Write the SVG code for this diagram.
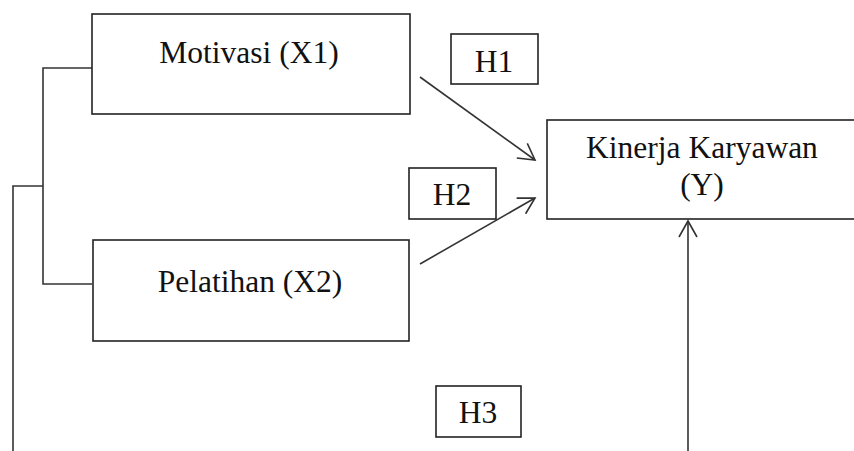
<svg xmlns="http://www.w3.org/2000/svg" width="854" height="451" viewBox="0 0 854 451">
<style>
.box{fill:#fff;stroke:#222;stroke-width:1.6}
.t{font-family:"Liberation Serif","Times New Roman",serif;font-size:31.5px;fill:#111;text-anchor:middle}
.c{fill:none;stroke:#333;stroke-width:1.6}
</style>
<defs>
<marker id="ah" viewBox="0 0 20 20" refX="18" refY="10" markerWidth="20" markerHeight="20" markerUnits="userSpaceOnUse" orient="auto">
<polyline points="2,1 18,10 2,19" fill="none" stroke="#333" stroke-width="1.6"/>
</marker>
</defs>
<rect width="854" height="451" fill="#fff"/>
<g id="connectors">
<polyline class="c" points="13,451 13,186 43,186"/>
<polyline class="c" points="92,68 43,68 43,284 92,284"/>
<line class="c" x1="420" y1="77" x2="535" y2="160" marker-end="url(#ah)"/>
<line class="c" x1="420" y1="264" x2="535" y2="198" marker-end="url(#ah)"/>
<line class="c" x1="688" y1="451" x2="688" y2="221" marker-end="url(#ah)"/>
</g>
<g id="motivasi">
<rect class="box" x="92" y="14" width="318" height="100"/>
<text class="t" x="249" y="63">Motivasi (X1)</text>
</g>
<g id="pelatihan">
<rect class="box" x="93" y="240" width="316" height="101"/>
<text class="t" x="250" y="292">Pelatihan (X2)</text>
</g>
<g id="kinerja">
<rect class="box" x="547" y="120" width="320" height="99"/>
<text class="t" x="702" y="158">Kinerja Karyawan</text>
<text class="t" x="702" y="195">(Y)</text>
</g>
<g id="h1">
<rect class="box" x="451" y="34" width="87" height="50"/>
<text class="t" x="494" y="72">H1</text>
</g>
<g id="h2">
<rect class="box" x="409" y="168" width="87" height="51"/>
<text class="t" x="452" y="205">H2</text>
</g>
<g id="h3">
<rect class="box" x="436" y="386" width="85" height="51"/>
<text class="t" x="478" y="423">H3</text>
</g>
</svg>
